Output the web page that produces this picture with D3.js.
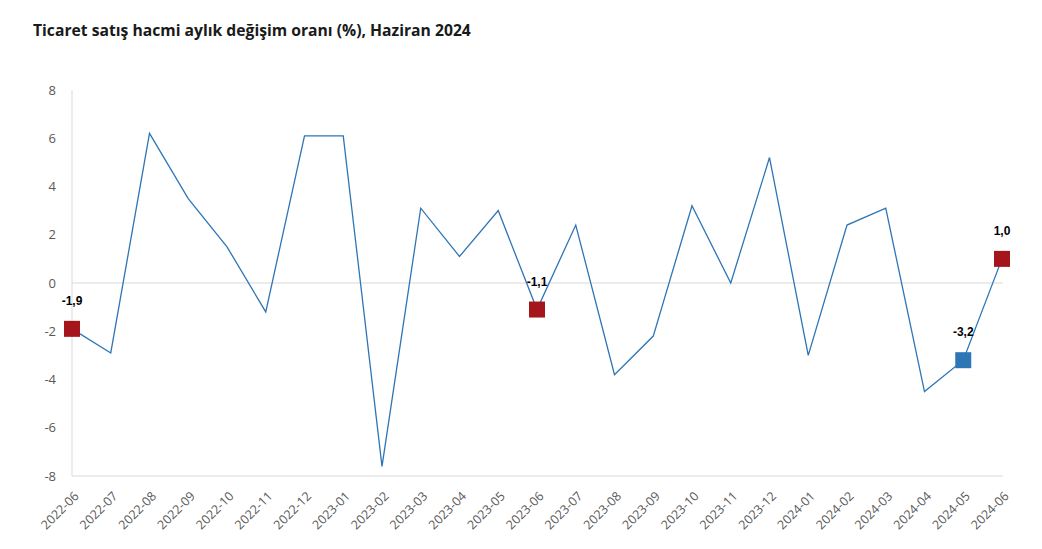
<!DOCTYPE html>
<html><head><meta charset="utf-8">
<script src="https://cdn.jsdelivr.net/npm/d3@7"></script>
<style>body{margin:0;background:#fff;} svg{display:block;}</style>
</head><body>
<svg id="c" width="1042" height="549"></svg>
<script>
const title = "Ticaret satış hacmi aylık değişim oranı (%), Haziran 2024";
const categories = ["2022-06","2022-07","2022-08","2022-09","2022-10","2022-11","2022-12","2023-01","2023-02","2023-03","2023-04","2023-05","2023-06","2023-07","2023-08","2023-09","2023-10","2023-11","2023-12","2024-01","2024-02","2024-03","2024-04","2024-05","2024-06"];
const values = [-1.9,-2.9,6.2,3.5,1.5,-1.2,6.1,6.1,-7.6,3.1,1.1,3.0,-1.1,2.4,-3.8,-2.2,3.2,0.0,5.2,-3.0,2.4,3.1,-4.5,-3.2,1.0];
const yTicks = [-8,-6,-4,-2,0,2,4,6,8];
const highlighted = [
  {cat:"2022-06", color:"#a5161c"},
  {cat:"2023-06", color:"#a5161c"},
  {cat:"2024-05", color:"#2e75b6"},
  {cat:"2024-06", color:"#a5161c"}
];
(function(){
const fmt = v => v.toFixed(1).replace(".", ",");

const svg = d3.select("#c");
const mL = 72, mR = 1002, mT = 90, mB = 476;
const x = d3.scalePoint().domain(categories).range([mL, mR]);
const y = d3.scaleLinear().domain([-8, 8]).range([mB, mT]);

svg.append("text").attr("x", 33).attr("y", 36)
  .attr("font-family", "'Open Sans', sans-serif").attr("font-weight", 700)
  .attr("font-size", 15.7).attr("fill", "#1a1a1a").text(title);

svg.append("line").attr("x1", mL).attr("x2", mL).attr("y1", mT).attr("y2", mB)
  .attr("stroke", "#d9d9d9");
svg.append("line").attr("x1", mL).attr("x2", mR + 1).attr("y1", y(0)).attr("y2", y(0))
  .attr("stroke", "#d9d9d9");
svg.append("line").attr("x1", mL).attr("x2", mR + 1).attr("y1", mB).attr("y2", mB)
  .attr("stroke", "#d9d9d9");

const ya = svg.append("g").attr("transform", `translate(${mL},0)`)
  .call(d3.axisLeft(y).tickValues(yTicks).tickSize(0).tickPadding(16).tickFormat(d => String(d)));
ya.select(".domain").remove();
ya.selectAll("text").attr("font-family", "'Open Sans', sans-serif").attr("font-size", 13).attr("fill", "#595959");

const xa = svg.append("g").attr("transform", `translate(0,${mB})`)
  .call(d3.axisBottom(x).tickSize(0).tickPadding(0));
xa.select(".domain").remove();
xa.selectAll("text")
  .attr("font-family", "'Open Sans', sans-serif").attr("font-size", 12.5).attr("fill", "#595959")
  .attr("text-anchor", "end").attr("dy", null).attr("y", 0)
  .attr("transform", "translate(7,21) rotate(-45)");

svg.append("path").datum(values)
  .attr("fill", "none").attr("stroke", "#2e75b6").attr("stroke-width", 1.3)
  .attr("d", d3.line().x((d, i) => x(categories[i])).y(d => y(d)));

const hl = highlighted.map(h => ({...h, v: values[categories.indexOf(h.cat)]}));
svg.selectAll("rect.m").data(hl).enter().append("rect")
  .attr("x", d => x(d.cat) - 8).attr("y", d => y(d.v) - 8)
  .attr("width", 16).attr("height", 16).attr("fill", d => d.color);
svg.selectAll("text.l").data(hl).enter().append("text")
  .attr("x", d => x(d.cat)).attr("y", d => y(d.v) - 24)
  .attr("text-anchor", "middle").attr("font-family", "'Liberation Sans', Arial, sans-serif")
  .attr("font-weight", 700).attr("font-size", 12).attr("fill", "#000").text(d => fmt(d.v));
})();
</script>
</body></html>
